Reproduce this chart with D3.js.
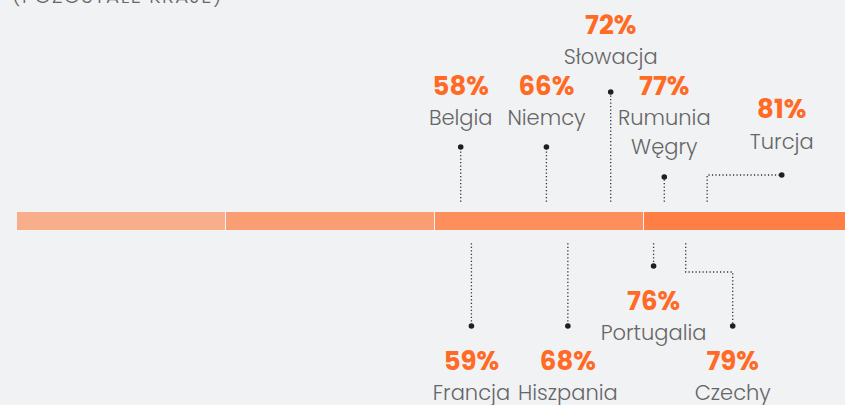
<!DOCTYPE html>
<html><head><meta charset="utf-8">
<script src="https://cdn.jsdelivr.net/npm/d3@7"></script>
<style>
html,body{margin:0;padding:0;background:#F1F2F4;}
svg{display:block;}
</style></head>
<body>
<script>
// ---- data ----
const title = "(POZOSTAŁE KRAJE)";
const countries = ["Belgia","Niemcy","Słowacja","Rumunia\nWęgry","Turcja","Francja","Hiszpania","Portugalia","Czechy"];
const values = [58,66,72,77,81,59,68,76,79];
const segmentColors = ["#F8AE8A","#F99E73","#FC8F5C","#FD7F45"];

// ---- layout (positions, not data) ----
const layout = [
  {side:"top", dotY:147, pctY:95, labY:125},
  {side:"top", dotY:147, pctY:95, labY:125},
  {side:"top", dotY:92, pctY:34, labY:64},
  {side:"top", dotY:177, pctY:95, labY:125},
  {side:"top", dotY:175, pctY:118, labY:149, elbowDx:74.6},
  {side:"bottom", dotY:326, pctY:370, labY:400},
  {side:"bottom", dotY:326, pctY:370, labY:400},
  {side:"bottom", dotY:266, pctY:310, labY:340},
  {side:"bottom", dotY:326, pctY:370, labY:400, elbowDx:47, elbowY:272}
];

const W = 845, H = 405;
const svg = d3.select("body").append("svg").attr("width", W).attr("height", H);

const x = d3.scaleLinear().domain([50,85]).range([375,750]);
const barTop = 212, barH = 18;
const seg = d3.scaleBand().domain(d3.range(segmentColors.length)).range([17, 852]).paddingInner(0.005);

svg.append("text").attr("x", 12).attr("y", 3)
  .attr("font-family","Poppins, 'Open Sans', sans-serif").attr("font-size",20).attr("font-weight",300)
  .attr("letter-spacing",1.5).attr("fill","#666").text(title);

svg.append("g").selectAll("rect").data(segmentColors).join("rect")
  .attr("x",(d,i)=>seg(i)).attr("y",barTop).attr("width",seg.bandwidth()).attr("height",barH)
  .attr("fill",d=>d);

const items = countries.map((c,i)=>({c, v:values[i], L:layout[i]}));
const g = svg.append("g");
const lineTopEnd = 201.7, lineBotStart = 243.3;
const dash = "1.2,2.3";

items.forEach(d=>{
  const ax = x(d.v);
  const L = d.L;
  let dotX = ax;
  let path;
  if (L.side === "top") {
    if (L.elbowDx) {
      dotX = ax + L.elbowDx;
      path = `M${ax},${lineTopEnd}V${L.dotY}H${dotX}`;
    } else {
      path = `M${ax},${lineTopEnd}V${L.dotY}`;
    }
  } else {
    if (L.elbowDx) {
      dotX = ax + L.elbowDx;
      path = `M${ax},${lineBotStart}V${L.elbowY}H${dotX}V${L.dotY}`;
    } else {
      path = `M${ax},${lineBotStart}V${L.dotY}`;
    }
  }
  g.append("path").attr("d",path).attr("fill","none").attr("stroke","#333")
    .attr("stroke-width",1.3).attr("stroke-dasharray",dash);
  g.append("circle").attr("cx",dotX).attr("cy",L.dotY).attr("r",2.8).attr("fill","#1f1f1f");
  g.append("text").attr("x",dotX).attr("y",L.pctY).attr("text-anchor","middle")
    .attr("font-family","Poppins, 'Open Sans', sans-serif").attr("font-size",26).attr("font-weight",700)
    .attr("fill","#FF6A24").text(d.v + "%");
  d.c.split("\n").forEach((line,k)=>{
    g.append("text").attr("x",dotX).attr("y",L.labY + k*29).attr("text-anchor","middle")
      .attr("font-family","Poppins, 'Open Sans', sans-serif").attr("font-size",21).attr("font-weight",300)
      .attr("fill","#666").text(line);
  });
});
</script>
</body></html>
